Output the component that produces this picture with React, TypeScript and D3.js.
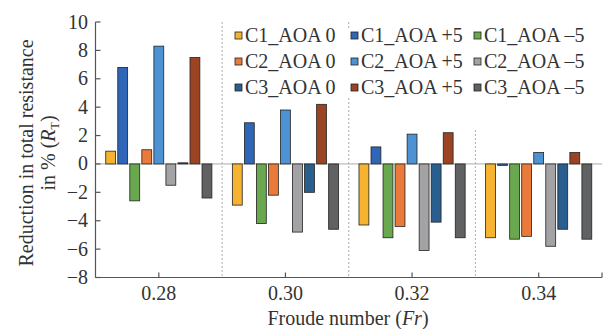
import React from 'react';
import * as d3 from 'd3';

// Froude numbers (groups)
const froude = ['0.28', '0.30', '0.32', '0.34'];

// series names, in drawing order inside each group
const seriesNames = [
  'C1_AOA 0', 'C1_AOA +5', 'C1_AOA –5',
  'C2_AOA 0', 'C2_AOA +5', 'C2_AOA –5',
  'C3_AOA 0', 'C3_AOA +5', 'C3_AOA –5',
];

// reduction in R_T (%) per series, one value per Froude number
const c1Aoa0 = [0.9, -2.9, -4.3, -5.2];
const c1AoaP5 = [6.8, 2.9, 1.2, -0.1];
const c1AoaM5 = [-2.6, -4.2, -5.2, -5.3];
const c2Aoa0 = [1.0, -2.2, -4.4, -5.1];
const c2AoaP5 = [8.3, 3.8, 2.1, 0.8];
const c2AoaM5 = [-1.5, -4.8, -6.1, -5.8];
const c3Aoa0 = [0.08, -2.0, -4.1, -4.6];
const c3AoaP5 = [7.5, 4.2, 2.2, 0.8];
const c3AoaM5 = [-2.4, -4.6, -5.2, -5.3];

const yTicks = [-8, -6, -4, -2, 0, 2, 4, 6, 8, 10];

const seriesValues = [c1Aoa0, c1AoaP5, c1AoaM5, c2Aoa0, c2AoaP5, c2AoaM5, c3Aoa0, c3AoaP5, c3AoaM5];
const colors = [
  '#f5b330', '#2f66b8', '#6aa84f',
  '#ea7a3a', '#4d92d3', '#a3a3a5',
  '#2a5e8e', '#9a4424', '#606163',
];

const W = 607;
const H = 329;
const left = 95.5;
const right = 602;
const top = 22;
const bottom = 277.5;
const txt = { fontFamily: "'Liberation Serif'" };
const axisColor = '#555';
const textColor = '#333';

export default function App() {
  const x = d3.scaleBand().domain(froude).range([left, right]).padding(0);
  const xi = d3.scaleBand()
    .domain(seriesNames)
    .range([0, x.bandwidth()])
    .paddingInner(0.18)
    .paddingOuter(0.85);
  const y = d3.scaleLinear().domain([-8, 10]).range([bottom, top]);

  // dashed separators between groups (last one starts below the legend)
  const sepTops = [top, top, 130];
  const seps = froude.slice(1).map((f, i) => ({ x: x(f)!, y0: sepTops[i] }));

  return (
    <svg width={W} height={H} style={{ position: 'absolute', left: 0, top: 0, background: '#fff' }}>
      {seps.map((s, i) => (
        <line key={i} x1={s.x} x2={s.x} y1={s.y0} y2={bottom} stroke="#999" strokeWidth={0.8}
          strokeDasharray="2,2" />
      ))}

      {/* legend: columns = AOA 0 / +5 / -5, rows = C1 / C2 / C3 */}
      <rect x={230} y={29} width={372} height={68} fill="#fff" />
      {seriesNames.map((name, i) => {
        const col = i % 3;
        const row = Math.floor(i / 3);
        const lx = [235, 351, 474][col];
        const ly = 41.5 + row * 26;
        return (
          <g key={name}>
            <rect x={lx} y={ly - 9.5} width={7} height={7} fill={colors[i]} stroke="#222" strokeWidth={0.8} />
            <text x={lx + 10} y={ly} fontSize={20} fill={textColor} style={txt}>{name}</text>
          </g>
        );
      })}

      {/* zero line */}
      <line x1={left} x2={right} y1={y(0)} y2={y(0)} stroke="#aaa" strokeWidth={1} />

      {/* bars */}
      {froude.map((f, gi) => (
        <g key={f} transform={`translate(${x(f)},0)`}>
          {seriesNames.map((s, si) => {
            const v = seriesValues[si][gi];
            return (
              <rect key={s} x={xi(s)} width={xi.bandwidth()}
                y={Math.min(y(v), y(0))} height={Math.abs(y(v) - y(0))}
                fill={colors[si]} stroke="#222" strokeWidth={0.8} />
            );
          })}
        </g>
      ))}

      {/* y axis */}
      <line x1={left} x2={left} y1={top} y2={bottom} stroke={axisColor} strokeWidth={1.2} />
      {yTicks.map((t) => (
        <g key={t}>
          <line x1={left} x2={left + 5} y1={y(t)} y2={y(t)} stroke={axisColor} strokeWidth={1.2} />
          <text x={88} y={y(t) + 6.5} fontSize={20} textAnchor="end" fill={textColor} style={txt}>
            {t < 0 ? `−${-t}` : t}
          </text>
        </g>
      ))}

      {/* x axis */}
      <line x1={left} x2={right} y1={bottom} y2={bottom} stroke={axisColor} strokeWidth={1.2} />
      {froude.map((f) => (
        <g key={f}>
          <line x1={x(f)! + x.bandwidth() / 2} x2={x(f)! + x.bandwidth() / 2} y1={bottom} y2={bottom - 5}
            stroke={axisColor} strokeWidth={1.2} />
          <text x={x(f)! + x.bandwidth() / 2} y={300} fontSize={20} textAnchor="middle" fill={textColor}
            style={txt}>{f}</text>
        </g>
      ))}
      <line x1={right} x2={right} y1={bottom} y2={bottom - 5} stroke={axisColor} strokeWidth={1.2} />

      <text x={348} y={325} fontSize={20} textAnchor="middle" fill={textColor} style={txt}>
        Froude number (<tspan fontStyle="italic">Fr</tspan>)
      </text>

      <g transform="translate(0,153) rotate(-90)" fill={textColor} fontSize={20}>
        <text x={0} y={33} textAnchor="middle" style={txt}>Reduction in total resistance</text>
        <text x={0} y={55} textAnchor="middle" style={txt}>
          in % (<tspan fontStyle="italic">R</tspan><tspan fontSize={12} dy={4}>T</tspan><tspan dy={-4}>)</tspan>
        </text>
      </g>
    </svg>
  );
}
